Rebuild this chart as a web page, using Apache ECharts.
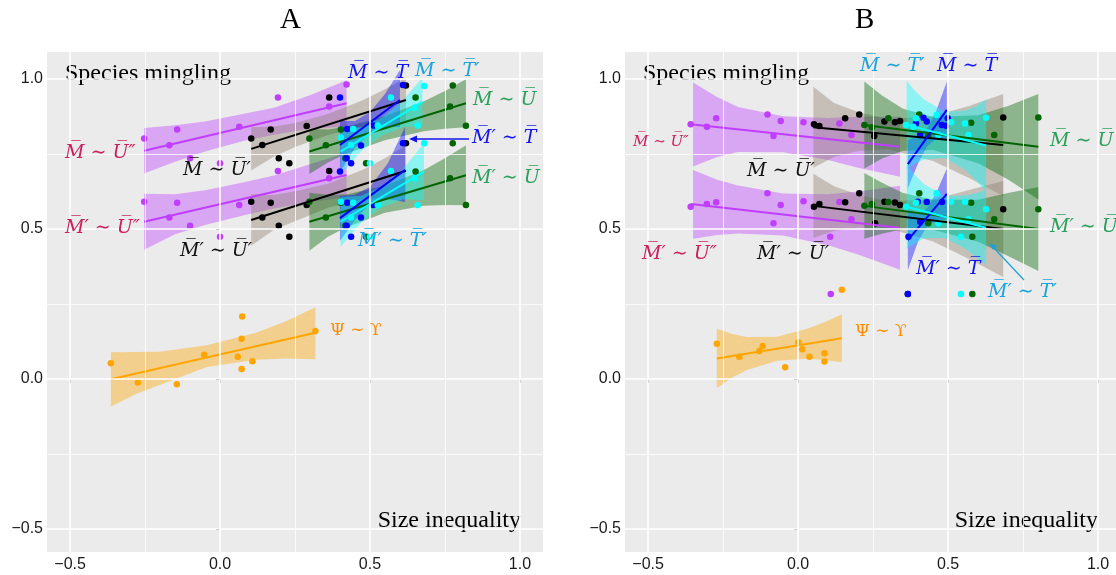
<!DOCTYPE html>
<html><head><meta charset="utf-8">
<script src="https://cdn.jsdelivr.net/npm/echarts@6/dist/echarts.min.js"></script>
<style>html,body{margin:0;padding:0;background:#fff}#c{width:1116px;height:575px}</style>
</head><body><div id="c"></div>
<script>
// ---------- tick labels ----------
const xTicks = [-0.5, 0, 0.5, 1];
const yTicks = [-0.5, 0, 0.5, 1];
const minorTicks = [-0.25, 0.25, 0.75];

// ---------- Panel A data ----------
const A_purple_M = [[-0.253,0.802],[-0.169,0.779],[-0.143,0.832],[-0.1,0.736],[0.0,0.719],[0.064,0.841],[0.193,0.938],[0.364,0.908],[0.422,0.982]];
const A_purple_Mp = [[-0.253,0.591],[-0.169,0.538],[-0.143,0.587],[-0.1,0.511],[0.0,0.474],[0.064,0.58],[0.193,0.693],[0.364,0.669]];
const A_purple_M_fit = [[-0.253,0.761],[0.422,0.919]];
const A_purple_Mp_fit = [[-0.253,0.524],[0.422,0.68]];
const A_purple_M_band = [[-0.253,0.685,0.837],[-0.15,0.724,0.846],[-0.05,0.758,0.858],[0.08,0.794,0.884],[0.18,0.814,0.904],[0.30,0.834,0.946],[0.422,0.842,0.996]];
const A_purple_Mp_band = [[-0.253,0.431,0.617],[-0.15,0.482,0.616],[-0.05,0.513,0.629],[0.08,0.546,0.656],[0.18,0.568,0.678],[0.30,0.59,0.716],[0.422,0.605,0.755]];

const A_black_M = [[0.104,0.802],[0.141,0.78],[0.169,0.832],[0.196,0.736],[0.231,0.719],[0.289,0.843],[0.364,0.938],[0.62,0.978]];
const A_black_Mp = [[0.104,0.591],[0.141,0.538],[0.169,0.587],[0.196,0.511],[0.231,0.474],[0.289,0.58],[0.364,0.693],[0.62,0.786]];
const A_black_M_fit = [[0.104,0.767],[0.62,0.93]];
const A_black_Mp_fit = [[0.104,0.53],[0.62,0.694]];
const A_black_M_band = [[0.104,0.695,0.839],[0.18,0.742,0.842],[0.25,0.773,0.853],[0.36,0.813,0.883],[0.48,0.841,0.931],[0.55,0.85,0.966],[0.62,0.855,1.005]];
const A_black_Mp_band = [[0.104,0.444,0.616],[0.18,0.497,0.613],[0.25,0.526,0.626],[0.36,0.571,0.651],[0.48,0.599,0.699],[0.55,0.606,0.736],[0.62,0.609,0.779]];

const A_green_M = [[0.298,0.802],[0.353,0.779],[0.403,0.832],[0.418,0.736],[0.487,0.719],[0.652,0.938],[0.767,0.908],[0.776,0.978],[0.82,0.844]];
const A_green_Mp = [[0.298,0.591],[0.353,0.538],[0.403,0.587],[0.418,0.511],[0.487,0.474],[0.652,0.692],[0.767,0.669],[0.776,0.786],[0.82,0.58]];
const A_green_M_fit = [[0.298,0.758],[0.82,0.919]];
const A_green_Mp_fit = [[0.298,0.524],[0.82,0.679]];
const A_green_M_band = [[0.298,0.683,0.833],[0.36,0.722,0.832],[0.42,0.751,0.841],[0.55,0.796,0.876],[0.68,0.826,0.926],[0.75,0.834,0.96],[0.82,0.839,0.999]];
const A_green_Mp_band = [[0.298,0.427,0.621],[0.36,0.474,0.614],[0.42,0.505,0.615],[0.55,0.554,0.644],[0.68,0.577,0.697],[0.75,0.58,0.736],[0.82,0.579,0.779]];

const A_blue_M = [[0.40,0.938],[0.424,0.833],[0.47,0.778],[0.422,0.736],[0.437,0.719],[0.511,0.845],[0.61,0.98]];
const A_blue_Mp = [[0.40,0.692],[0.424,0.587],[0.47,0.538],[0.422,0.511],[0.437,0.474],[0.511,0.58],[0.61,0.786]];
const A_blue_M_fit = [[0.40,0.78],[0.60,0.93]];
const A_blue_Mp_fit = [[0.40,0.536],[0.617,0.697]];
const A_blue_M_band = [[0.40,0.69,0.86],[0.45,0.77,0.86],[0.50,0.82,0.89],[0.55,0.84,0.95],[0.60,0.84,1.03]];
const A_blue_Mp_band = [[0.40,0.46,0.61],[0.45,0.53,0.615],[0.50,0.585,0.64],[0.56,0.60,0.72],[0.617,0.59,0.84]];

const A_cyan_M = [[0.681,0.977],[0.57,0.938],[0.65,0.905],[0.403,0.805],[0.437,0.78],[0.444,0.833],[0.526,0.845],[0.659,0.845],[0.5,0.719]];
const A_cyan_Mp = [[0.681,0.786],[0.57,0.693],[0.65,0.669],[0.403,0.591],[0.437,0.538],[0.444,0.587],[0.526,0.58],[0.659,0.58],[0.5,0.474]];
const A_cyan_M_fit = [[0.402,0.758],[0.675,0.924]];
const A_cyan_Mp_fit = [[0.402,0.524],[0.68,0.691]];
const A_cyan_M_band = [[0.402,0.68,0.836],[0.47,0.759,0.839],[0.54,0.812,0.872],[0.61,0.839,0.929],[0.675,0.844,1.004]];
const A_cyan_Mp_band = [[0.402,0.441,0.607],[0.47,0.52,0.61],[0.54,0.572,0.642],[0.61,0.599,0.699],[0.68,0.596,0.786]];

const A_orange = [[-0.364,0.052],[-0.274,-0.012],[-0.144,-0.018],[-0.053,0.081],[0.059,0.074],[0.072,0.134],[0.074,0.208],[0.072,0.033],[0.108,0.059],[0.318,0.16]];
const A_orange_fit = [[-0.364,-0.001],[0.318,0.154]];
const A_orange_band = [[-0.364,-0.092,0.089],[-0.28,-0.05,0.09],[-0.2,-0.019,0.091],[-0.044,0.04,0.112],[0.12,0.064,0.154],[0.22,0.068,0.192],[0.318,0.066,0.239]];

// ---------- Panel B data ----------
const B_purple_M = [[-0.358,0.849],[-0.304,0.841],[-0.273,0.869],[-0.102,0.882],[-0.058,0.86],[0.018,0.856],[-0.082,0.81],[0.138,0.852],[0.178,0.813]];
const B_purple_Mp = [[-0.358,0.574],[-0.304,0.583],[-0.273,0.589],[-0.102,0.619],[-0.058,0.58],[0.018,0.592],[-0.082,0.519],[0.138,0.59],[0.178,0.532],[0.107,0.474],[0.109,0.283]];
const B_purple_M_fit = [[-0.358,0.849],[0.338,0.774]];
const B_purple_Mp_fit = [[-0.358,0.583],[0.338,0.504]];
const B_purple_M_band = [[-0.35,0.708,0.988],[-0.27,0.74,0.94],[-0.2,0.757,0.907],[-0.05,0.756,0.876],[0.1,0.73,0.87],[0.2,0.704,0.874],[0.34,0.674,0.874]];
const B_purple_Mp_band = [[-0.35,0.467,0.697],[-0.27,0.48,0.664],[-0.2,0.485,0.645],[-0.05,0.478,0.618],[0.1,0.446,0.616],[0.2,0.415,0.625],[0.34,0.364,0.644]];

const B_black_M = [[0.053,0.849],[0.071,0.843],[0.157,0.869],[0.204,0.882],[0.254,0.81],[0.288,0.858],[0.323,0.856],[0.34,0.86],[0.684,0.872]];
const B_black_Mp = [[0.053,0.574],[0.071,0.583],[0.157,0.589],[0.204,0.619],[0.257,0.519],[0.288,0.591],[0.323,0.588],[0.34,0.58],[0.684,0.566],[0.366,0.283]];
const B_black_M_fit = [[0.051,0.839],[0.684,0.78]];
const B_black_Mp_fit = [[0.051,0.577],[0.684,0.5]];
const B_black_M_band = [[0.051,0.704,0.974],[0.12,0.74,0.92],[0.2,0.76,0.89],[0.3,0.766,0.866],[0.45,0.727,0.877],[0.57,0.67,0.91],[0.684,0.61,0.95]];
const B_black_Mp_band = [[0.051,0.47,0.684],[0.12,0.494,0.642],[0.2,0.504,0.614],[0.3,0.502,0.592],[0.45,0.458,0.598],[0.57,0.40,0.63],[0.684,0.34,0.66]];

const B_green_M = [[0.221,0.847],[0.246,0.839],[0.301,0.869],[0.404,0.882],[0.434,0.81],[0.577,0.854],[0.654,0.813],[0.801,0.872]];
const B_green_Mp = [[0.221,0.577],[0.246,0.583],[0.301,0.59],[0.404,0.619],[0.434,0.519],[0.577,0.587],[0.654,0.532],[0.801,0.566],[0.581,0.474],[0.581,0.283]];
const B_green_M_fit = [[0.221,0.847],[0.801,0.774]];
const B_green_Mp_fit = [[0.221,0.577],[0.801,0.5]];
const B_green_M_band = [[0.221,0.702,0.992],[0.28,0.735,0.945],[0.35,0.761,0.901],[0.45,0.763,0.873],[0.6,0.719,0.879],[0.7,0.665,0.91],[0.801,0.598,0.95]];
const B_green_Mp_band = [[0.221,0.467,0.687],[0.28,0.484,0.654],[0.35,0.5,0.62],[0.45,0.497,0.597],[0.6,0.457,0.597],[0.7,0.41,0.62],[0.801,0.36,0.64]];

const B_blue_M = [[0.393,0.852],[0.418,0.871],[0.429,0.858],[0.479,0.847],[0.499,0.869],[0.493,0.844],[0.407,0.813]];
const B_blue_Mp = [[0.399,0.591],[0.429,0.59],[0.48,0.59],[0.407,0.524],[0.368,0.474],[0.366,0.283]];
const B_blue_M_fit = [[0.366,0.716],[0.496,0.897]];
const B_blue_Mp_fit = [[0.366,0.463],[0.496,0.617]];
const B_blue_M_band = [[0.366,0.636,0.796],[0.40,0.718,0.808],[0.43,0.775,0.835],[0.46,0.802,0.892],[0.496,0.802,0.992]];
const B_blue_Mp_band = [[0.366,0.363,0.563],[0.40,0.458,0.548],[0.43,0.509,0.569],[0.46,0.529,0.619],[0.496,0.532,0.702]];

const B_cyan_M = [[0.36,0.847],[0.393,0.869],[0.384,0.841],[0.462,0.88],[0.468,0.813],[0.51,0.856],[0.557,0.852],[0.568,0.813],[0.627,0.871]];
const B_cyan_Mp = [[0.36,0.574],[0.393,0.587],[0.462,0.619],[0.468,0.519],[0.51,0.591],[0.557,0.591],[0.568,0.532],[0.627,0.566],[0.543,0.474],[0.543,0.283]];
const B_cyan_M_fit = [[0.362,0.847],[0.627,0.778]];
const B_cyan_Mp_fit = [[0.362,0.574],[0.627,0.504]];
const B_cyan_M_band = [[0.362,0.70,0.994],[0.39,0.718,0.96],[0.42,0.732,0.932],[0.49,0.737,0.891],[0.56,0.695,0.895],[0.595,0.66,0.91],[0.627,0.623,0.933]];
const B_cyan_Mp_band = [[0.362,0.434,0.714],[0.39,0.452,0.68],[0.42,0.469,0.649],[0.49,0.47,0.61],[0.56,0.432,0.612],[0.595,0.405,0.62],[0.627,0.379,0.629]];

const B_orange = [[-0.271,0.117],[-0.196,0.074],[-0.129,0.093],[-0.118,0.11],[-0.043,0.039],[0.001,0.122],[0.014,0.099],[0.038,0.074],[0.088,0.086],[0.088,0.058],[0.146,0.297]];
const B_orange_fit = [[-0.271,0.068],[0.146,0.136]];
const B_orange_band = [[-0.271,-0.031,0.167],[-0.22,0.005,0.15],[-0.17,0.03,0.14],[-0.07,0.061,0.141],[0.03,0.067,0.167],[0.09,0.063,0.19],[0.146,0.056,0.216]];

// ---------- styling ----------
const COL = {
  purple: {pt:'#bf3eff', fill:'rgba(191,62,255,0.4)'},
  black:  {pt:'#000000', fill:'rgba(139,125,107,0.4)'},
  green:  {pt:'#006400', fill:'rgba(0,100,0,0.4)'},
  blue:   {pt:'#0000ff', fill:'rgba(0,0,255,0.4)'},
  cyan:   {pt:'#00ffff', fill:'rgba(0,255,255,0.4)'},
  orange: {pt:'#ffa500', fill:'rgba(255,165,0,0.4)'}
};

function bandSeries(rows, fill, gi){
  return {
    type:'custom', xAxisIndex:gi, yAxisIndex:gi, silent:true, clip:true,
    data: rows,
    encode:{x:0, y:[1,2]},
    renderItem: function(params, api){
      if (params.dataIndex !== 0) return null;
      const top = rows.map(r => api.coord([r[0], r[2]]));
      const bot = rows.map(r => api.coord([r[0], r[1]])).reverse();
      return {type:'polygon', shape:{points: top.concat(bot)}, style:{fill:fill}};
    }
  };
}
function lineSeries(pts, color, gi){
  return {type:'line', xAxisIndex:gi, yAxisIndex:gi, data:pts, showSymbol:false, silent:true,
    lineStyle:{color:color, width:2}, animation:false};
}
function ptSeries(pts, color, gi){
  return {type:'scatter', xAxisIndex:gi, yAxisIndex:gi, data:pts, symbolSize:6.5, silent:true,
    itemStyle:{color:color, opacity:1}};
}
function group(gi, c, sets){
  const out = [];
  sets.forEach(s => { out.push(bandSeries(s.band, COL[c].fill, gi)); });
  sets.forEach(s => { out.push(lineSeries(s.fit, COL[c].pt, gi)); out.push(ptSeries(s.pts, COL[c].pt, gi)); });
  return out;
}
function gridLines(gi){
  const d = [];
  minorTicks.forEach(v => { d.push({xAxis:v, lineStyle:{width:0.8}}); d.push({yAxis:v, lineStyle:{width:0.8}}); });
  xTicks.forEach(v => d.push({xAxis:v, lineStyle:{width:1.6}}));
  yTicks.forEach(v => d.push({yAxis:v, lineStyle:{width:1.6}}));
  return {type:'line', xAxisIndex:gi, yAxisIndex:gi, data:[], z:1, silent:true,
    markLine:{silent:true, symbol:'none', animation:false, label:{show:false},
      lineStyle:{color:'#ffffff', type:'solid'}, data:d}};
}

const series = [gridLines(0), gridLines(1)];
// Panel A
series.push(...group(0,'purple',[{band:A_purple_M_band,fit:A_purple_M_fit,pts:A_purple_M},{band:A_purple_Mp_band,fit:A_purple_Mp_fit,pts:A_purple_Mp}]));
series.push(...group(0,'black',[{band:A_black_M_band,fit:A_black_M_fit,pts:A_black_M},{band:A_black_Mp_band,fit:A_black_Mp_fit,pts:A_black_Mp}]));
series.push(...group(0,'green',[{band:A_green_M_band,fit:A_green_M_fit,pts:A_green_M},{band:A_green_Mp_band,fit:A_green_Mp_fit,pts:A_green_Mp}]));
series.push(...group(0,'blue',[{band:A_blue_M_band,fit:A_blue_M_fit,pts:A_blue_M},{band:A_blue_Mp_band,fit:A_blue_Mp_fit,pts:A_blue_Mp}]));
series.push(...group(0,'cyan',[{band:A_cyan_M_band,fit:A_cyan_M_fit,pts:A_cyan_M},{band:A_cyan_Mp_band,fit:A_cyan_Mp_fit,pts:A_cyan_Mp}]));
series.push(...group(0,'orange',[{band:A_orange_band,fit:A_orange_fit,pts:A_orange}]));
// Panel B
series.push(...group(1,'purple',[{band:B_purple_M_band,fit:B_purple_M_fit,pts:B_purple_M},{band:B_purple_Mp_band,fit:B_purple_Mp_fit,pts:B_purple_Mp}]));
series.push(...group(1,'black',[{band:B_black_M_band,fit:B_black_M_fit,pts:B_black_M},{band:B_black_Mp_band,fit:B_black_Mp_fit,pts:B_black_Mp}]));
series.push(...group(1,'green',[{band:B_green_M_band,fit:B_green_M_fit,pts:B_green_M},{band:B_green_Mp_band,fit:B_green_Mp_fit,pts:B_green_Mp}]));
series.push(...group(1,'blue',[{band:B_blue_M_band,fit:B_blue_M_fit,pts:B_blue_M},{band:B_blue_Mp_band,fit:B_blue_Mp_fit,pts:B_blue_Mp}]));
series.push(...group(1,'cyan',[{band:B_cyan_M_band,fit:B_cyan_M_fit,pts:B_cyan_M},{band:B_cyan_Mp_band,fit:B_cyan_Mp_fit,pts:B_cyan_Mp}]));
series.push(...group(1,'orange',[{band:B_orange_band,fit:B_orange_fit,pts:B_orange}]));

function fmt(v){ return (v < 0 ? '\u2212' : '') + Math.abs(v).toFixed(1); }
function xAxis(gi, max){
  return {gridIndex:gi, type:'value', min:-0.577, max:max,
    axisLine:{show:false}, splitLine:{show:false},
    axisTick:{show:true, customValues:xTicks, length:4, lineStyle:{color:'#333', width:1}},
    axisLabel:{customValues:xTicks, formatter:fmt, color:'#1a1a1a', fontSize:16, fontFamily:'Liberation Sans, Arial', margin:5}};
}
function yAxis(gi){
  return {gridIndex:gi, type:'value', min:-0.577, max:1.09,
    axisLine:{show:false}, splitLine:{show:false},
    axisTick:{show:true, customValues:yTicks, length:4, lineStyle:{color:'#333', width:1}},
    axisLabel:{customValues:yTicks, formatter:fmt, color:'#1a1a1a', fontSize:16, fontFamily:'Liberation Sans, Arial', margin:4}};
}

// ---------- annotation texts ----------
const OL = '\u0305';
const M = 'M'+OL, Mp = 'M'+OL+'\u2032', U = 'U'+OL, Up = 'U'+OL+'\u2032', Upp = 'U'+OL+'\u2033', T = 'T'+OL, Tp = 'T'+OL+'\u2032';
const SIM = ' \u223C ';
const C_CRIM = '#cc1f5e', C_GREEN = '#2ca05a', C_CYAN = '#1aa3dc', C_BLUE = '#1414f0', C_ORANGE = '#ff8c00';
const labels = [
  // panel A
  {t:M+SIM+Upp, x:65, y:155, c:C_CRIM, s:19},
  {t:Mp+SIM+Upp, x:65, y:230, c:C_CRIM, s:19},
  {t:M+SIM+Up, x:183, y:172, c:'#111', s:19},
  {t:Mp+SIM+Up, x:180, y:253, c:'#111', s:19},
  {t:M+SIM+T, x:348, y:75, c:C_BLUE, s:19},
  {t:M+SIM+Tp, x:415, y:73, c:C_CYAN, s:19},
  {t:M+SIM+U, x:473, y:102, c:C_GREEN, s:19},
  {t:Mp+SIM+T, x:472, y:140, c:C_BLUE, s:19},
  {t:Mp+SIM+U, x:472, y:180, c:C_GREEN, s:19},
  {t:Mp+SIM+Tp, x:358, y:243, c:C_CYAN, s:19},
  {t:'\u03A8'+SIM+'\u03D2', x:330, y:333, c:C_ORANGE, s:17, up:true},
  // panel B
  {t:M+SIM+Upp, x:633, y:144, c:C_CRIM, s:15},
  {t:Mp+SIM+Upp, x:642, y:256, c:C_CRIM, s:19},
  {t:M+SIM+Up, x:747, y:173, c:'#111', s:19},
  {t:Mp+SIM+Up, x:757, y:256, c:'#111', s:19},
  {t:M+SIM+Tp, x:860, y:68, c:C_CYAN, s:19},
  {t:M+SIM+T, x:937, y:68, c:C_BLUE, s:19},
  {t:M+SIM+U, x:1050, y:143, c:C_GREEN, s:19},
  {t:Mp+SIM+U, x:1050, y:229, c:C_GREEN, s:19},
  {t:Mp+SIM+T, x:916, y:271, c:C_BLUE, s:19},
  {t:Mp+SIM+Tp, x:988, y:294, c:C_CYAN, s:19},
  {t:'\u03A8'+SIM+'\u03D2', x:855, y:334, c:C_ORANGE, s:17, up:true}
];
const graphic = [
  {type:'text', left:280, top:6, style:{text:'A', fontSize:29, fontFamily:'Liberation Serif, serif', fill:'#000'}},
  {type:'text', left:855, top:6, style:{text:'B', fontSize:29, fontFamily:'Liberation Serif, serif', fill:'#000'}},
  {type:'text', left:65, top:62, style:{text:'Species mingling', fontSize:24, fontFamily:'Liberation Serif, serif', fill:'#000'}},
  {type:'text', left:643, top:62, style:{text:'Species mingling', fontSize:24, fontFamily:'Liberation Serif, serif', fill:'#000'}},
  {type:'text', right:1116-521, top:509, style:{text:'Size inequality', fontSize:24, fontFamily:'Liberation Serif, serif', fill:'#000'}},
  {type:'text', right:1116-1098, top:509, style:{text:'Size inequality', fontSize:24, fontFamily:'Liberation Serif, serif', fill:'#000'}},
  // arrows
  {type:'line', shape:{x1:469, y1:139, x2:414, y2:139}, style:{stroke:C_BLUE, lineWidth:1.5}, z:100},
  {type:'polygon', shape:{points:[[409,139],[417,135.5],[417,142.5]]}, style:{fill:C_BLUE}, z:100},
  {type:'line', shape:{x1:1024, y1:280, x2:993, y2:247}, style:{stroke:C_CYAN, lineWidth:1.2}, z:100},
  {type:'polygon', shape:{points:[[989,243],[997,246],[993,250]]}, style:{fill:C_CYAN}, z:100}
];
labels.forEach(l => graphic.push({type:'text', left:l.x, top:l.y - l.s*0.62, z:100,
  style:{text:l.t, fontSize:l.s, fontStyle:l.up?'normal':'italic', fontFamily:'DejaVu Serif, serif', fill:l.c}}));

const chart = echarts.init(document.getElementById('c'), null, {renderer:'canvas'});
chart.setOption({
  animation:false,
  grid:[
    {left:47, top:52, width:496, height:500, show:true, backgroundColor:'#ebebeb', borderWidth:0},
    {left:625, top:52, width:491, height:500, show:true, backgroundColor:'#ebebeb', borderWidth:0}
  ],
  xAxis:[xAxis(0,1.077), xAxis(1,1.06)],
  yAxis:[yAxis(0), yAxis(1)],
  series: series,
  graphic: graphic
});
</script></body></html>
